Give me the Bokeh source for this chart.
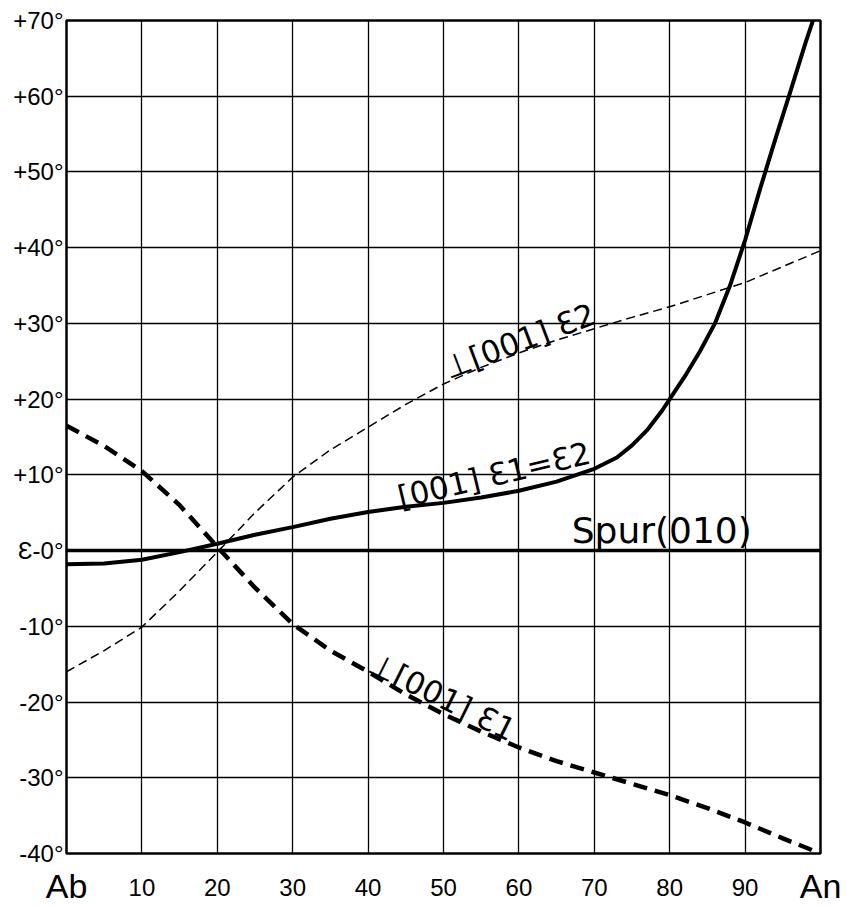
from bokeh.plotting import figure
from bokeh.models import FixedTicker, Label, LinearAxis
from bokeh.embed import file_html
from bokeh.resources import INLINE

# ---- data ----
x_ticks = [10, 20, 30, 40, 50, 60, 70, 80, 90]
x_tick_labels = ["10", "20", "30", "40", "50", "60", "70", "80", "90"]
end_labels = ["Ab", "An"]
end_positions = [0, 100]

y_ticks = [-40, -30, -20, -10, 0, 10, 20, 30, 40, 50, 60, 70]
y_tick_labels = ["-40°", "-30°", "-20°", "-10°", "Ɛ-0°", "+10°", "+20°",
                 "+30°", "+40°", "+50°", "+60°", "+70°"]

# [001] e1=e2 (solid)
solid_x = [0, 5, 10, 15, 20, 25, 30, 35, 40, 45, 50, 55, 60, 65, 70, 73, 75,
           77, 79, 80, 82, 84, 86, 88, 90, 92, 94, 96, 98, 100]
solid_y = [-1.8, -1.7, -1.2, -0.2, 0.9, 2.1, 3.1, 4.2, 5.1, 5.8, 6.3, 7.0, 7.9,
           9.1, 10.8, 12.3, 13.9, 15.9, 18.5, 20.0, 23.0, 26.3, 30.0, 35.0,
           41.0, 47.8, 54.3, 60.6, 67.0, 73.0]

# perp [001] e2 (thin dashed)
e2_x = [0, 5, 10, 15, 20, 25, 30, 35, 40, 45, 50, 55, 60, 65, 70, 75, 80, 85,
        90, 95, 100]
e2_y = [-16.0, -13.2, -10.1, -5.3, -0.2, 5.0, 9.7, 13.3, 16.3, 19.3, 22.0,
        24.2, 26.1, 27.8, 29.3, 30.8, 32.2, 33.8, 35.4, 37.5, 39.6]

# perp [001] e1 (thick dashed)
e1_x = [0, 5, 10, 15, 20, 25, 30, 35, 40, 45, 50, 55, 60, 65, 70, 75, 80, 85,
        90, 95, 100]
e1_y = [16.5, 13.8, 10.5, 6.0, 0.5, -4.9, -9.7, -13.2, -16.0, -19.0, -21.6,
        -23.9, -26.0, -27.8, -29.3, -30.8, -32.3, -34.0, -35.9, -38.0, -40.0]

# Spur (010) trace
spur_x = [0, 100]
spur_y = [0, 0]

# ---- figure ----
p = figure(frame_width=754, frame_height=833,
           min_border_left=66, min_border_right=27,
           min_border_top=20, min_border_bottom=50,
           x_range=(0, 100), y_range=(-40, 70),
           output_backend="svg", toolbar_location=None,
           background_fill_color="white", border_fill_color="white")

p.outline_line_color = "black"
p.outline_line_width = 2.5

p.xgrid.ticker = FixedTicker(ticks=x_ticks)
p.ygrid.ticker = FixedTicker(ticks=y_ticks)
for g in (p.xgrid, p.ygrid):
    g.grid_line_color = "black"
    g.grid_line_width = 1.3
    g.grid_line_alpha = 1.0

# composition end-member axis (Ab / An), nearest the frame
p.xaxis.ticker = FixedTicker(ticks=end_positions)
p.xaxis.major_label_overrides = dict(zip(end_positions, end_labels))
p.xaxis.major_label_text_font_size = "34px"
p.xaxis.major_label_standoff = 13

# numeric composition axis
num_axis = LinearAxis(ticker=FixedTicker(ticks=x_ticks),
                      major_label_overrides=dict(zip(x_ticks, x_tick_labels)),
                      major_label_text_font_size="24px",
                      major_label_standoff=-29)
p.add_layout(num_axis, "below")

p.yaxis.ticker = FixedTicker(ticks=y_ticks)
p.yaxis.major_label_overrides = dict(zip(y_ticks, y_tick_labels))
p.yaxis.major_label_text_font_size = "24px"
p.yaxis.major_label_standoff = 3

for ax in (p.xaxis[0], num_axis, p.yaxis[0]):
    ax.axis_line_color = None
    ax.major_tick_line_color = None
    ax.minor_tick_line_color = None
    ax.major_tick_out = 0
    ax.major_tick_in = 0
    ax.major_label_text_color = "black"
    ax.major_label_text_font = "Liberation Sans"

# ---- lines ----
p.line(spur_x, spur_y, line_color="black", line_width=3.5)
p.line(e2_x, e2_y, line_color="black", line_width=1.5, line_dash="9 5")
p.line(e1_x, e1_y, line_color="black", line_width=4.5, line_dash="14 8")
p.line(solid_x, solid_y, line_color="black", line_width=4)

# ---- curve labels ----
font = "DejaVu Sans"
p.add_layout(Label(x=67.0, y=2.6, text="Spur(010)", text_align="left",
                   text_baseline="alphabetic", text_font=font,
                   text_font_size="36px", text_color="black"))
p.add_layout(Label(x=44.0, y=7.0, text="[001] Ɛ1=Ɛ2", angle=13.3,
                   angle_units="deg", text_align="left",
                   text_baseline="alphabetic", text_font=font,
                   text_font_size="31px", text_color="black"))
p.add_layout(Label(x=50.2, y=24.0, text="⊥[001] Ɛ2", angle=20.7,
                   angle_units="deg", text_align="left",
                   text_baseline="alphabetic", text_font=font,
                   text_font_size="31px", text_color="black"))
p.add_layout(Label(x=40.4, y=-14.6, text="⊥[001] Ɛ1", angle=-26.4,
                   angle_units="deg", text_align="left",
                   text_baseline="alphabetic", text_font=font,
                   text_font_size="31px", text_color="black"))

open("out.html", "w").write(file_html(p, INLINE))
